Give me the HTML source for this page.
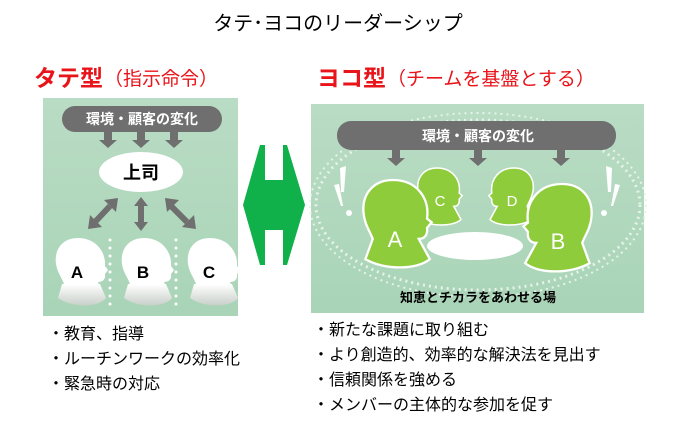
<!DOCTYPE html>
<html><head><meta charset="utf-8"><style>
body{margin:0;width:677px;height:424px;background:#fff;overflow:hidden;font-family:"Liberation Sans","Noto Sans CJK JP",sans-serif;}
svg{position:absolute;left:0;top:0}
</style></head><body>
<svg width="677" height="424" viewBox="0 0 677 424" font-family="Liberation Sans, Noto Sans CJK JP, sans-serif">
<defs>
<linearGradient id="lg" x1="0" y1="0" x2="0" y2="1"><stop offset="0" stop-color="#b9dcc4"/><stop offset="1" stop-color="#a9d4b7"/></linearGradient>
<linearGradient id="nk" x1="0" y1="0" x2="0" y2="1"><stop offset="0" stop-color="#fff"/><stop offset="1" stop-color="#c8cfc9"/></linearGradient>
<g id="head">
<path d="M0,0 C-16,0 -24,12 -22,26 C-21,34 -16,40 -14,46 L-18,58 C-6,66 18,66 26,58 L20,44 C24,44 28,42 27,36 L30,32 L27,28 C28,14 18,0 0,0 Z" fill="#fff"/>
<path d="M-16,46 L-20,60 C-6,70 20,70 28,60 L22,46 Z" fill="url(#nk)"/>
</g>
<g id="gh">
<path d="M0,0 C-22,0 -34,16 -32,36 C-31,48 -25,56 -22,64 L-30,86 C-10,98 26,98 40,86 L28,64 C34,64 38,60 37,52 L42,46 L37,42 C40,20 26,0 0,0 Z" fill="#8fcc3c" stroke="#fff" stroke-width="2.5"/>
</g>
</defs>

<text x="338" y="30" font-size="20" text-anchor="middle" fill="#000">タテ･ヨコのリーダーシップ</text>

<text x="34" y="86" font-size="23" fill="#e8141a" font-weight="bold">タテ型</text>
<text x="104" y="85" font-size="19" fill="#e8141a">（指示命令）</text>
<text x="317" y="86" font-size="23" fill="#e8141a" font-weight="bold">ヨコ型</text>
<text x="387" y="85" font-size="19" fill="#e8141a">（チームを基盤とする）</text>

<!-- left panel -->
<rect x="43" y="98" width="195" height="218" fill="url(#lg)"/>
<rect x="62" y="106" width="160" height="26" rx="13" fill="#6f6f6f"/>
<text x="142" y="124" font-size="14" font-weight="bold" fill="#fff" text-anchor="middle">環境・顧客の変化</text>
<g fill="#6f6f6f">
<path d="M104,132h8v8h5l-9,8l-9,-8h5z"/><path d="M137,132h8v8h5l-9,8l-9,-8h5z"/><path d="M170,132h8v8h5l-9,8l-9,-8h5z"/>
</g>
<ellipse cx="141" cy="172" rx="42" ry="20" fill="#fff"/>
<text x="141" y="179" font-size="18" font-weight="bold" text-anchor="middle">上司</text>
<g stroke="#6f6f6f" stroke-width="6" fill="none"><line x1="110" y1="206" x2="95" y2="222"/><line x1="141" y1="205" x2="141" y2="222"/><line x1="171" y1="206" x2="187" y2="222"/></g>
<g fill="#6f6f6f"><path d="M118,198l-2,14l-12,-12z"/><path d="M88,229l2,-14l12,12z"/><path d="M141,197l7,9h-14z"/><path d="M141,231l7,-9h-14z"/><path d="M165,198l2,14l12,-12z"/><path d="M196,229l-2,-14l-12,12z"/></g>
<g fill="#fff"><circle cx="110" cy="240" r="1.5"/><circle cx="110" cy="248" r="1.5"/><circle cx="110" cy="256" r="1.5"/><circle cx="110" cy="264" r="1.5"/><circle cx="110" cy="272" r="1.5"/><circle cx="110" cy="280" r="1.5"/><circle cx="110" cy="288" r="1.5"/><circle cx="110" cy="296" r="1.5"/><circle cx="110" cy="304" r="1.5"/>
<circle cx="176" cy="240" r="1.5"/><circle cx="176" cy="248" r="1.5"/><circle cx="176" cy="256" r="1.5"/><circle cx="176" cy="264" r="1.5"/><circle cx="176" cy="272" r="1.5"/><circle cx="176" cy="280" r="1.5"/><circle cx="176" cy="288" r="1.5"/><circle cx="176" cy="296" r="1.5"/><circle cx="176" cy="304" r="1.5"/></g>
<use href="#head" x="78" y="238"/><use href="#head" x="144" y="238"/><use href="#head" x="210" y="238"/>
<g font-size="17" font-weight="bold" text-anchor="middle"><text x="77" y="278">A</text><text x="143" y="278">B</text><text x="209" y="278">C</text></g>

<!-- double arrow -->
<polygon points="260,145 265,145 265,180 283,180 283,145 287,145 305,205 287,265 283,265 283,230 265,230 265,265 260,265 243,205" fill="#10b04a"/>

<!-- right panel -->
<rect x="311" y="104" width="333" height="209" fill="url(#lg)"/>
<ellipse cx="478" cy="205" rx="162" ry="85" fill="none" stroke="#e6f3ea" stroke-width="3" stroke-dasharray="2 4"/>
<ellipse cx="478" cy="205" rx="168" ry="92" fill="none" stroke="#e6f3ea" stroke-width="2" stroke-dasharray="2 4"/>
<rect x="337" y="121" width="279" height="29" rx="14" fill="#6f6f6f"/>
<text x="478" y="141" font-size="14" font-weight="bold" fill="#fff" text-anchor="middle">環境・顧客の変化</text>
<g fill="#6f6f6f"><path d="M392,150h8v8h5l-9,8l-9,-8h5z"/><path d="M474,150h8v8h5l-9,8l-9,-8h5z"/><path d="M557,150h8v8h5l-9,8l-9,-8h5z"/></g>
<ellipse cx="475" cy="246" rx="48" ry="14" fill="#fff"/>
<use href="#gh" transform="translate(437,168) scale(0.6)"/>
<use href="#gh" transform="translate(514,168) scale(-0.6,0.6)"/>
<use href="#gh" transform="translate(393,180) scale(0.92)"/>
<use href="#gh" transform="translate(562,184) scale(-0.92,0.92)"/>
<g fill="#fff" text-anchor="middle"><text x="440" y="206" font-size="15">C</text><text x="512" y="206" font-size="15">D</text><text x="395" y="247" font-size="22">A</text><text x="558" y="249" font-size="22">B</text></g>
<g fill="#fff"><path d="M340,168l6,-2l-2,26h-3z"/><circle cx="349" cy="213" r="3"/><path d="M334,185l5,-1l4,22h-2z"/>
<path d="M612,168l-6,-2l2,26h3z"/><circle cx="604" cy="213" r="3"/><path d="M620,185l-5,-1l-4,22h2z"/></g>
<text x="478" y="302" font-size="13" font-weight="bold" text-anchor="middle">知恵とチカラをあわせる場</text>

<g font-size="16" fill="#000">
<text x="48" y="339">・教育、指導</text>
<text x="48" y="364">・ルーチンワークの効率化</text>
<text x="48" y="389">・緊急時の対応</text>
<text x="313" y="335">・新たな課題に取り組む</text>
<text x="313" y="360">・より創造的、効率的な解決法を見出す</text>
<text x="313" y="385">・信頼関係を強める</text>
<text x="313" y="410">・メンバーの主体的な参加を促す</text>
</g>
</svg>
</body></html>
